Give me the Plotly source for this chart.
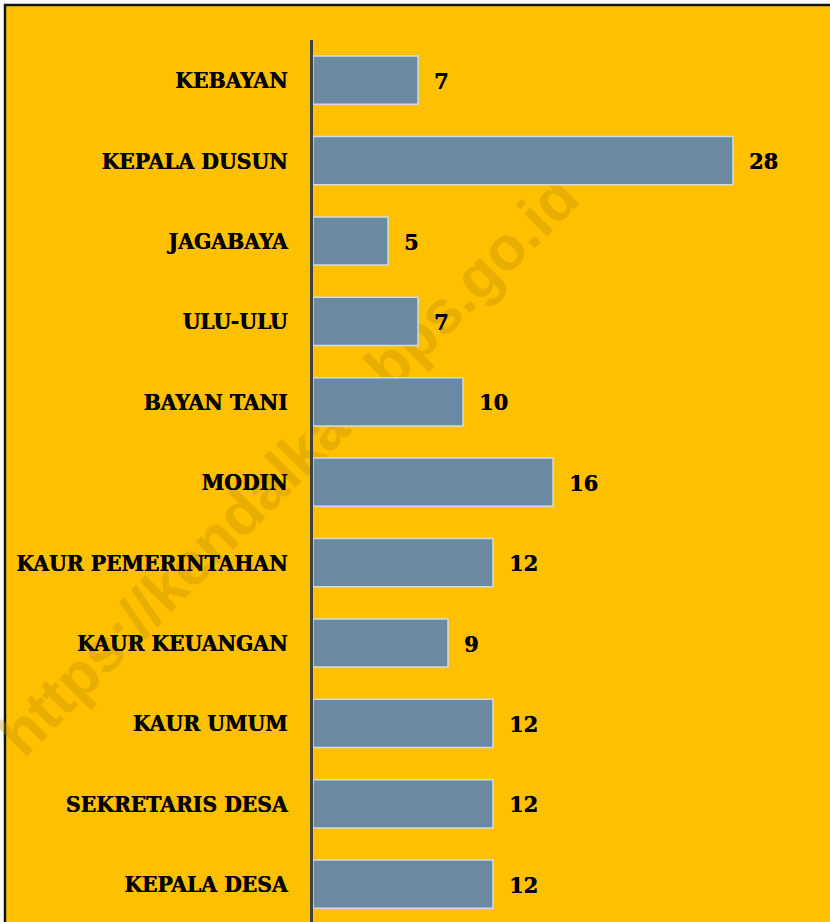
import plotly.graph_objects as go

categories = ["KEBAYAN", "KEPALA DUSUN", "JAGABAYA", "ULU-ULU", "BAYAN TANI", "MODIN",
              "KAUR PEMERINTAHAN", "KAUR KEUANGAN", "KAUR UMUM", "SEKRETARIS DESA", "KEPALA DESA"]
values = [7, 28, 5, 7, 10, 16, 12, 9, 12, 12, 12]
watermark = "https://kendalkab.bps.go.id"

W, H = 830, 922
L, T = 313, 40
PW, PH = W - L, H - T
XMAX = PW / 15.0
YLOW = -0.5 + PH / 80.4

BG = "#FFC000"
FONT = "DejaVu Serif Condensed, DejaVu Serif, serif"
SHADOW = "0.5px 0px 0px #000000"

fig = go.Figure()
fig.add_trace(go.Bar(
    x=values, y=categories, orientation="h",
    marker=dict(color="#6A8AA2", line=dict(color="#D3DAE2", width=1.5)),
    hoverinfo="skip",
))

for c, v in zip(categories, values):
    fig.add_annotation(x=v, y=c, text=f"<b>{v}</b>", showarrow=False,
                       xanchor="left", xshift=14,
                       font=dict(family=FONT, size=23, color="#000000", shadow=SHADOW))

def px_x(px):
    return (px - L) / PW

def px_y(py):
    return 1 - (py - T) / PH

# chart-area background with outer border
fig.add_shape(type="rect", xref="paper", yref="paper",
              x0=px_x(5), x1=px_x(900), y0=px_y(1000), y1=px_y(5),
              layer="below", line=dict(color="#111111", width=2.5), fillcolor=BG)

# watermark behind bars
cx, cy = 284, 461
fig.add_shape(type="rect", xref="paper", yref="paper",
              x0=px_x(cx - 10), x1=px_x(cx + 10), y0=px_y(cy + 10), y1=px_y(cy - 10),
              layer="below", line=dict(width=0), fillcolor="rgba(0,0,0,0)",
              label=dict(text="<b>" + watermark + "</b>", textangle=-45,
                         textposition="middle center",
                         font=dict(family="Liberation Sans, Arial, sans-serif", size=61,
                                   color="rgba(190,140,0,0.36)")))

fig.update_layout(
    width=W, height=H,
    margin=dict(l=L, r=0, t=T, b=0),
    paper_bgcolor="#FFFFFF", plot_bgcolor=BG,
    bargap=0.4,
    showlegend=False,
    xaxis=dict(range=[0, XMAX], visible=False, fixedrange=True),
    yaxis=dict(categoryorder="array", categoryarray=categories,
               range=[YLOW, -0.5], showline=True, linecolor="#404040", linewidth=3,
               showgrid=False, zeroline=False, ticks="", ticklabelstandoff=18,
               tickfont=dict(family=FONT, size=22.6, color="#000000", shadow=SHADOW),
               tickprefix="<b>", ticksuffix="</b>", fixedrange=True),
)

fig.write_html("out.html", config={"displayModeBar": False},
               post_script="document.body.style.margin='0';")
